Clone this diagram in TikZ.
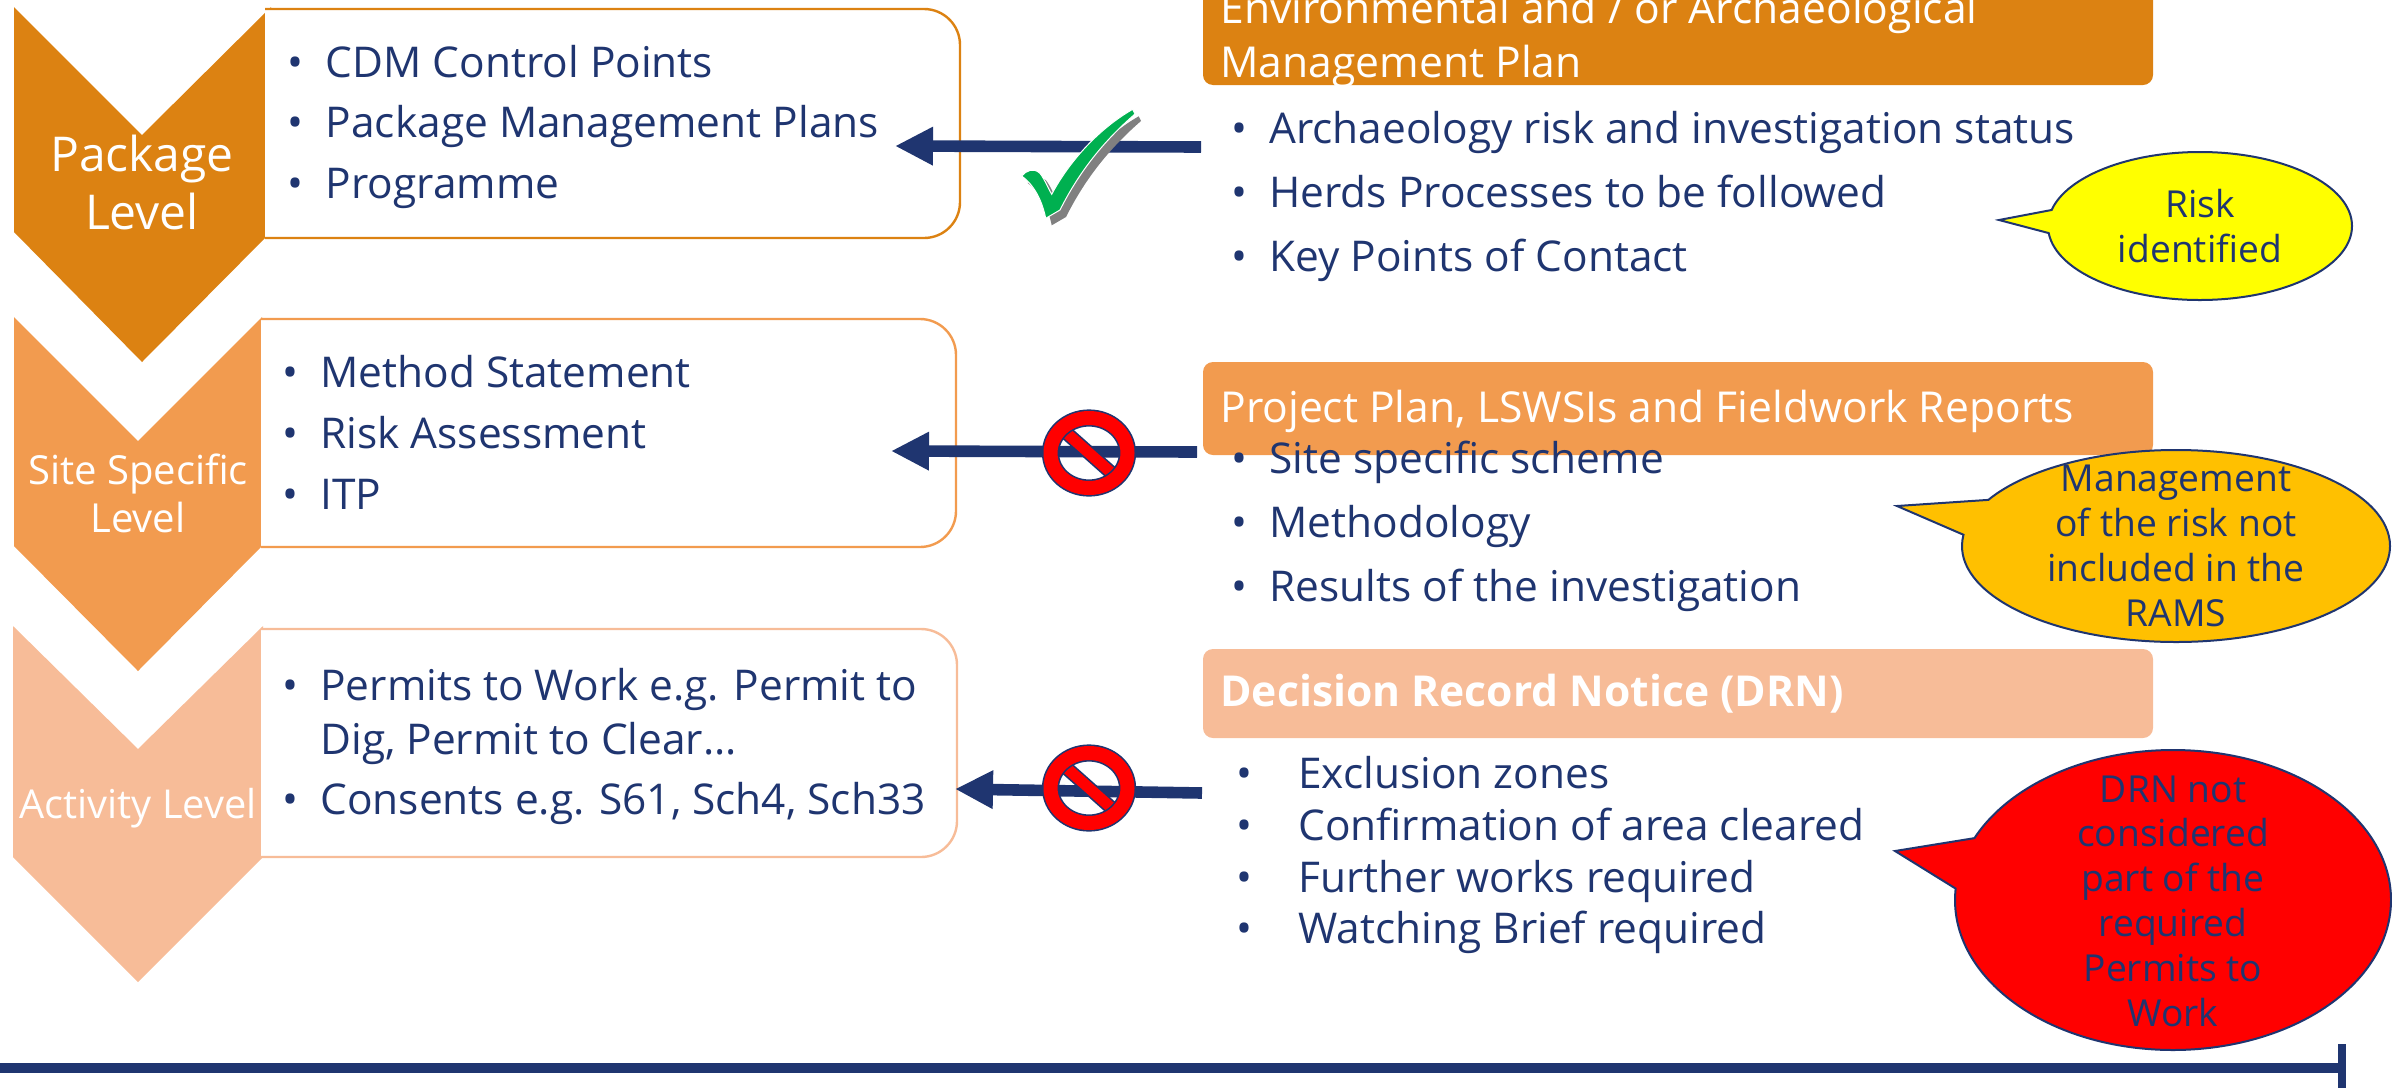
\documentclass[tikz,border=0pt]{standalone}
\usepackage{fontspec}
\setmainfont{Open Sans}
\usepackage{tikz}
\usetikzlibrary{positioning,arrows.meta,shapes.geometric,shapes.callouts}
\definecolor{navy}{HTML}{1F3570}
\definecolor{pkgorange}{HTML}{DC8212}
\definecolor{siteorange}{HTML}{F29B4F}
\definecolor{actpeach}{HTML}{F7BC98}
\definecolor{riskyellow}{HTML}{FFFF00}
\definecolor{ramsamber}{HTML}{FFC000}
\definecolor{drnred}{HTML}{FF0000}
\definecolor{tickgreen}{HTML}{00B050}
\definecolor{tickshadow}{HTML}{808080}
\newcommand{\itembul}[1]{\hbox to #1{\textbullet\hfil}}
\newcommand{\tickpath}{(1021.7,176) .. controls (1026,171) and (1033,167) .. (1040,173.3) .. controls (1045,180) and (1048,188) .. (1051.7,194.3) .. controls (1070,160) and (1100,128) .. (1132.7,109.3) -- (1135,114) .. controls (1105,140) and (1080,170) .. (1060,210) -- (1045.7,218.3) .. controls (1042,200) and (1034,185) .. cycle}
\tikzstyle{item}=[text=navy,
	font=\fontsize{21.2}{27}\selectfont,
	inner sep=0pt,
	anchor=base west]
\tikzstyle{header}=[rectangle,
	rounded corners=5pt,
	minimum width=475pt,
	inner sep=0pt]
\tikzstyle{headertitle}=[text=white,
	align=left,
	inner sep=0pt,
	anchor=base west,
	font=\fontsize{21.3}{27}\selectfont]
\tikzstyle{levellabel}=[text=white,
	align=center,
	inner sep=0pt,
	anchor=base]
\tikzstyle{bubble}=[ellipse callout,
	draw=navy,
	line width=1pt,
	inner sep=0pt]
\tikzstyle{bubbletext}=[text=navy,
	align=center,
	inner sep=0pt,
	font=\fontsize{18.6}{22.4}\selectfont]
\tikzstyle{link}=[navy,
	line width=5.8pt,
	{Triangle[length=19pt,width=18pt]}-]
\tikzstyle{forbid}=[ellipse,
	draw=navy,
	line width=0.8pt,
	double=drnred,
	double distance=7pt,
	minimum width=38.5pt,
	minimum height=35pt,
	inner sep=0pt,
	outer sep=0pt]
\tikzstyle{forbidbar}=[draw=navy,
	line width=0.8pt,
	double=drnred,
	double distance=5.5pt]
\begin{document}
\begin{tikzpicture}[x=0.5pt,y=-0.5pt]
	\clip (0,0) rectangle (2392,1088);

	% level chevrons
	\fill [pkgorange] (14,7) -- (142,135) -- (271,7) -- (271,232) -- (142,362) -- (14,232) -- cycle;
	\fill [siteorange] (14,317) -- (138,441) -- (262,317) -- (262,546) -- (138,671) -- (14,546) -- cycle;
	\fill [actpeach] (13,626) -- (138,749) -- (263,626) -- (263,857) -- (138,982) -- (13,857) -- cycle;

	% boxes beside the chevrons
	\filldraw [draw=pkgorange, fill=white, line width=1.2pt] (265,9) {[rounded corners=18pt] -- (960,9) -- (960,238)} -- (265,238);
	\filldraw [draw=siteorange, fill=white, line width=1.2pt] (261,319) {[rounded corners=18pt] -- (956,319) -- (956,547)} -- (261,547);
	\filldraw [draw=actpeach, fill=white, line width=1.2pt] (261,629) {[rounded corners=18pt] -- (957,629) -- (957,857)} -- (261,857);

	\node (pkgLevel) [levellabel, font=\fontsize{24}{29}\selectfont] at (142,229) {Package\\Level};
	\node (siteLevel) [levellabel, font=\fontsize{20}{24}\selectfont] at (138,532) {Site Specific\\Level};
	\node (actLevel) [levellabel, font=\fontsize{19.9}{24}\selectfont] at (138,818) {Activity Level};

	\node (cdmItem) [item] at (287.5,77) {\itembul{19pt}CDM Control Points};
	\node (planItem) [item, below=30pt of cdmItem.base west, anchor=base west] {\itembul{19pt}Package Management Plans};
	\node (progItem) [item, below=30.5pt of planItem.base west, anchor=base west] {\itembul{19pt}Programme};

	\node (methodItem) [item] at (282,387) {\itembul{19pt}Method Statement};
	\node (riskItem) [item, below=30.5pt of methodItem.base west, anchor=base west] {\itembul{19pt}Risk Assessment};
	\node (itpItem) [item, below=30.5pt of riskItem.base west, anchor=base west] {\itembul{19pt}ITP};

	\node (permitItem) [item] at (282,700) {\itembul{19pt}Permits to Work e.g. Permit to};
	\node (digItem) [item, below=27pt of permitItem.base west, anchor=base west] {\hspace{19pt}Dig, Permit to Clear\dots};
	\node (consentItem) [item, below=30pt of digItem.base west, anchor=base west] {\itembul{19pt}Consents e.g. S61, Sch4, Sch33};

	% headers on the right
	\node (envHeader) [header, fill=pkgorange, minimum height=60pt] at (1678,25) {};
	\node (envTitle) [headertitle] at (1220,77) {Environmental and / or Archaeological\\Management Plan};
	\node (projHeader) [header, fill=siteorange, minimum height=46.5pt] at (1678,408.5) {};
	\node (projTitle) [headertitle] at (1220,422) {Project Plan, LSWSIs and Fieldwork Reports};
	\node (drnHeader) [header, fill=actpeach, minimum height=44.5pt] at (1678,693.5) {};
	\node (drnTitle) [headertitle] at (1220,706) {\textbf{Decision Record Notice (DRN)}};

	\node (archItem) [item] at (1231,143.5) {\itembul{19pt}Archaeology risk and investigation status};
	\node (herdItem) [item, below=32pt of archItem.base west, anchor=base west] {\itembul{19pt}Herds Processes to be followed};
	\node (keyItem) [item, below=32pt of herdItem.base west, anchor=base west] {\itembul{19pt}Key Points of Contact};

	\node (siteItem) [item] at (1231,473.5) {\itembul{19pt}Site specific scheme};
	\node (methItem) [item, below=32pt of siteItem.base west, anchor=base west] {\itembul{19pt}Methodology};
	\node (resItem) [item, below=32pt of methItem.base west, anchor=base west] {\itembul{19pt}Results of the investigation};

	\node (exclItem) [item] at (1236,788) {\itembul{31pt}Exclusion zones};
	\node (confItem) [item, below=26pt of exclItem.base west, anchor=base west] {\itembul{31pt}Confirmation of area cleared};
	\node (workItem) [item, below=26pt of confItem.base west, anchor=base west] {\itembul{31pt}Further works required};
	\node (briefItem) [item, below=25.5pt of workItem.base west, anchor=base west] {\itembul{31pt}Watching Brief required};

	% speech bubbles
	\node (riskBubble) [bubble, fill=riskyellow, minimum width=152pt, minimum height=74pt, callout absolute pointer={(1999,220)}, callout pointer arc=18] at (2200,226) {};
	\node (riskText) [bubbletext] at (riskBubble.center) {Risk\\identified};
	\node (ramsBubble) [bubble, fill=ramsamber, minimum width=214pt, minimum height=96pt, callout absolute pointer={(1897,506)}, callout pointer arc=22] at (2176,546) {};
	\node (ramsText) [bubbletext] at (ramsBubble.center) {Management\\of the risk not\\included in the\\RAMS};
	\node (drnBubble) [bubble, fill=drnred, minimum width=218pt, minimum height=150pt, callout absolute pointer={(1895,851)}, callout pointer arc=20] at (2173,900) {};
	\node (drnText) [bubbletext, yshift=-0.5pt] at (drnBubble.center) {DRN not\\considered\\part of the\\required\\Permits to\\Work};

	% arrows into the boxes
	\coordinate (pkgTip) at (895,146);
	\coordinate (pkgTail) at (1201,147);
	\coordinate (siteTip) at (891,451);
	\coordinate (siteTail) at (1197,452);
	\coordinate (actTip) at (955,789);
	\coordinate (actTail) at (1202,793);
	\draw [link] (pkgTip) -- (pkgTail);
	\draw [link] (siteTip) -- (siteTail);
	\draw [link] (actTip) -- (actTail);

	% tick
	\fill [tickshadow, shift={(6,7)}] \tickpath;
	\filldraw [draw=white, line width=0.5pt, fill=tickgreen] \tickpath;

	% no entry signs
	\foreach \signname/\signy in {noSite/453,noAct/788} {
		\coordinate (\signname) at (1089,\signy);
		\draw [forbidbar] ([shift={(-27,-24)}]\signname) -- ([shift={(27,24)}]\signname);
		\node (\signname Ring) [forbid] at (\signname) {};
	}

	% bottom rule
	\coordinate (ruleStart) at (0,1068);
	\coordinate (ruleEnd) at (2342,1068);
	\draw [navy, line width=5pt] (ruleStart) -- (ruleEnd);
	\draw [navy, line width=4pt] (2342,1044) -- (2342,1088);
\end{tikzpicture}
\end{document}
